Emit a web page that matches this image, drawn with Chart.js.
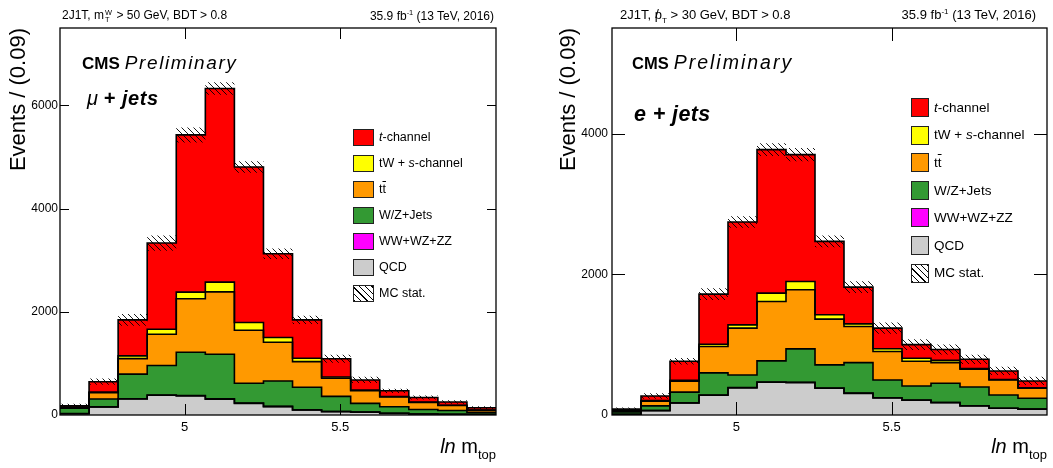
<!DOCTYPE html>
<html>
<head>
<meta charset="utf-8">
<script src="https://cdn.jsdelivr.net/npm/chart.js"></script>
<style>
  body { margin: 0; background: #fff; font-family: "Liberation Sans", Arial, Helvetica, sans-serif; }
  #page { position: relative; width: 1053px; height: 468px; overflow: hidden; }
  canvas { position: absolute; top: 0; }
  .txt { position: absolute; white-space: nowrap; color: #000; line-height: 1; }
  .ss { display: inline-block; font-size: 0.62em; line-height: 0.95; vertical-align: -0.45em; margin: 0 1px; }
  .ss span { display: block; }
  .slash { position: relative; }
  .slash::after { content: "/"; position: absolute; left: 0.05em; top: 0; }
  .ytitle { position: absolute; width: 250px; text-align: right; transform-origin: 0 0; transform: rotate(-90deg);
            white-space: nowrap; line-height: 1; }
  .leg { position: absolute; }
  .leg .row { position: absolute; left: 0; white-space: nowrap; }
  .leg .box { position: absolute; left: 0; top: 0; box-sizing: border-box; border: 1px solid #222; }
  .leg .lab { position: absolute; line-height: 1; }
  .ov { text-decoration: overline; }
</style>
</head>
<body>
<div id="page">
  <canvas id="muChart" width="527" height="468" style="left:0"></canvas>
  <canvas id="elChart" width="526" height="468" style="left:527px"></canvas>
  <div id="labels"></div>
</div>

<script>
// binning: ln(m_top) from 4.6 to 6.0 in 15 bins
const X_MIN = 4.6;
const X_MAX = 6.0;
const xLabelled = [5, 5.5];

// mu + jets, events per bin
const muQcd  = [25, 155, 310, 382, 369, 304, 226, 162, 97, 65, 55, 32, 19, 13, 12];
const muVV   = [2, 3, 5, 6, 8, 8, 6, 5, 3, 2, 2, 1, 1, 1, 0];
const muWZ   = [103, 152, 477, 570, 839, 866, 383, 493, 437, 293, 169, 127, 87, 74, 40];
const muTT   = [20, 120, 301, 608, 1036, 1209, 1028, 750, 498, 352, 244, 190, 136, 97, 40];
const muTWs  = [5, 17, 52, 97, 129, 188, 149, 91, 65, 23, 15, 8, 7, 5, 3];
const muTch  = [23, 198, 699, 1669, 3047, 3753, 3015, 1624, 744, 355, 194, 111, 90, 62, 45];
const muStat = [40, 60, 113, 149, 146, 120, 110, 104, 81, 78, 60, 42, 40, 36, 30];

// e + jets, events per bin
const elQcd  = [10, 62, 170, 280, 385, 465, 460, 380, 308, 242, 209, 176, 130, 95, 83];
const elVV   = [1, 2, 3, 4, 5, 5, 5, 4, 3, 3, 2, 2, 2, 1, 1];
const elWZ   = [34, 66, 152, 314, 179, 299, 475, 328, 434, 253, 202, 273, 266, 189, 153];
const elTT   = [15, 65, 155, 375, 665, 844, 839, 650, 512, 404, 351, 294, 252, 213, 143];
const elTWs  = [3, 10, 12, 33, 47, 119, 119, 62, 38, 40, 43, 31, 10, 7, 7];
const elTch  = [20, 65, 272, 712, 1462, 2040, 1803, 1043, 522, 292, 193, 154, 132, 121, 97];
const elStat = [25, 40, 45, 85, 83, 90, 95, 83, 83, 81, 75, 71, 66, 59, 59];

// stacking order, bottom first
const procNames  = ['QCD', 'WW+WZ+ZZ', 'W/Z+Jets', 'tt', 'tW + s-channel', 't-channel'];
const procColors = ['#cccccc', '#ff00ff', '#339933', '#ff9900', '#ffff00', '#ff0000'];

// histogram as step points on the bin edges (last edge repeats the last bin)
function steps(vals) {
  const w = (X_MAX - X_MIN) / vals.length;
  const pts = vals.map((v, i) => ({ x: X_MIN + i * w, y: v }));
  pts.push({ x: X_MAX, y: vals[vals.length - 1] });
  return pts;
}

function hatchPattern() {
  const c = document.createElement('canvas');
  c.width = 6; c.height = 6;
  const g = c.getContext('2d');
  g.strokeStyle = '#000';
  g.lineWidth = 0.9;
  g.beginPath();
  g.moveTo(-1, -1); g.lineTo(7, 7);
  g.moveTo(-4, 2); g.lineTo(2, 8);
  g.moveTo(2, -4); g.lineTo(8, 2);
  g.stroke();
  return g.createPattern(c, 'repeat');
}

// frame and ROOT style inner ticks on all four sides
const frameTicks = {
  id: 'frameTicks',
  afterDatasetsDraw(chart, args, opts) {
    const { ctx, chartArea: a, scales: { x, y } } = chart;
    ctx.save();
    ctx.strokeStyle = '#000';
    ctx.lineWidth = 1;
    ctx.beginPath();
    y.ticks.forEach(t => {
      if (t.value <= 0) return;
      const py = Math.round(y.getPixelForValue(t.value)) + 0.5;
      const len = t.value % opts.yMajor === 0 ? opts.yLong : opts.yShort;
      ctx.moveTo(a.left, py); ctx.lineTo(a.left + len, py);
      ctx.moveTo(a.right, py); ctx.lineTo(a.right - len, py);
    });
    x.ticks.forEach(t => {
      const px = Math.round(x.getPixelForValue(t.value)) + 0.5;
      const len = Math.round(t.value * 10) % 5 === 0 ? opts.xLong : opts.xShort;
      ctx.moveTo(px, a.bottom); ctx.lineTo(px, a.bottom - len);
      ctx.moveTo(px, a.top); ctx.lineTo(px, a.top + len);
    });
    ctx.stroke();
    ctx.lineWidth = 1.3;
    ctx.strokeRect(a.left, a.top, a.right - a.left, a.bottom - a.top);
    ctx.restore();
  }
};

function makeChart(id, comps, stat, cfg) {
  const total = comps[0].map((_, i) => comps.reduce((s, c) => s + c[i], 0));
  const pattern = hatchPattern();
  // stepped 'before': each bin keeps its value up to the next edge
  const datasets = [
    { label: 'MC stat. up', data: steps(total.map((v, i) => v + stat[i])), stack: 'statUp',
      borderColor: 'rgba(0,0,0,0)', borderWidth: 0, fill: false, stepped: 'before' },
    { label: 'MC stat.', data: steps(total.map((v, i) => v - stat[i])), stack: 'statDown',
      borderColor: 'rgba(0,0,0,0)', borderWidth: 0, backgroundColor: pattern, fill: '-1', stepped: 'before' }
  ];
  comps.forEach((vals, k) => {
    datasets.push({
      label: procNames[k],
      data: steps(vals),
      stepped: 'before',
      backgroundColor: procColors[k],
      borderColor: '#000',
      borderWidth: 1.6,
      fill: k === 0 ? 'origin' : '-1'
    });
  });

  return new Chart(document.getElementById(id), {
    type: 'line',
    data: { datasets },
    plugins: [frameTicks],
    options: {
      responsive: false,
      animation: false,
      events: [],
      layout: { padding: { top: 28, right: cfg.padRight, left: 0, bottom: 0 } },
      elements: { point: { radius: 0 }, line: { tension: 0, borderJoinStyle: 'miter' } },
      plugins: {
        legend: { display: false },
        tooltip: { enabled: false },
        filler: { drawTime: 'beforeDatasetsDraw' },
        frameTicks: cfg.ticks
      },
      scales: {
        x: {
          type: 'linear',
          min: X_MIN,
          max: X_MAX,
          grid: { display: false, drawTicks: false },
          border: { display: false },
          ticks: {
            stepSize: 0.1,
            autoSkip: false,
            maxRotation: 0,
            padding: 5,
            color: '#000',
            font: { family: '"Liberation Sans", Arial, sans-serif', size: 13 },
            callback: v => {
              const hit = xLabelled.find(l => Math.abs(l - v) < 1e-6);
              return hit === undefined ? null : String(hit);
            }
          },
          afterFit: s => { s.height = 53; s.paddingLeft = 0; s.paddingRight = 0; }
        },
        y: {
          stacked: true,
          min: 0,
          max: cfg.yMax,
          grid: { display: false, drawTicks: false },
          border: { display: false },
          ticks: {
            stepSize: 500,
            padding: cfg.labelPad,
            color: '#000',
            font: { family: '"Liberation Sans", Arial, sans-serif', size: 12 },
            callback: v => (v % 2000 === 0 ? String(v) : null)
          },
          afterFit: s => { s.width = cfg.yWidth; s.paddingTop = 0; s.paddingBottom = 0; }
        }
      }
    }
  });
}

makeChart('muChart', [muQcd, muVV, muWZ, muTT, muTWs, muTch], muStat, {
  yMax: 7500, yWidth: 60, padRight: 31, labelPad: 2,
  ticks: { yMajor: 2000, yLong: 9, yShort: 4.5, xLong: 11, xShort: 5.5 }
});
makeChart('elChart', [elQcd, elVV, elWZ, elTT, elTWs, elTch], elStat, {
  yMax: 5500, yWidth: 85, padRight: 6, labelPad: 4,
  ticks: { yMajor: 2000, yLong: 13, yShort: 7, xLong: 13, xShort: 7 }
});

// text, titles and legends
const legendRows = [
  '<i>t</i>-channel',
  'tW + <i>s</i>-channel',
  't<span class="ov">t</span>',
  'W/Z+Jets',
  'WW+WZ+ZZ',
  'QCD',
  'MC stat.'
];
const legendFill = [...procColors].reverse().concat(['hatch']);

function legend(x, y, boxW, boxH, gap, step, size) {
  let html = `<div class="leg" style="left:${x}px;top:${y}px">`;
  legendRows.forEach((t, i) => {
    const bg = legendFill[i] === 'hatch'
      ? 'background:repeating-linear-gradient(45deg,#000 0 1px,#fff 1px 4.5px)'
      : `background:${legendFill[i]}`;
    html += `<div class="row" style="top:${(i * step).toFixed(1)}px">` +
      `<div class="box" style="width:${boxW}px;height:${boxH}px;${bg}"></div>` +
      `<div class="lab" style="left:${boxW + gap}px;top:${(boxH / 2 - size * 0.5).toFixed(1)}px;font-size:${size}px">${t}</div></div>`;
  });
  return html + '</div>';
}

const lab = document.getElementById('labels');
lab.innerHTML = `
  <div class="txt" style="left:62px;top:9px;font-size:12px">2J1T, m<span class="ss"><span>W</span><span>T</span></span> &gt; 50 GeV, BDT &gt; 0.8</div>
  <div class="txt" style="right:559px;top:9px;font-size:12px">35.9 fb<sup style="font-size:0.62em">-1</sup> (13 TeV, 2016)</div>
  <div class="txt" style="left:82px;top:53px;font-size:18px"><b style="font-size:17px">CMS</b> <i style="letter-spacing:1.6px;font-size:19px">Preliminary</i></div>
  <div class="txt" style="left:87px;top:88px;font-size:20px"><i>&mu;</i> <b><i style="letter-spacing:0.6px">+ jets</i></b></div>
  <div class="ytitle" style="left:7px;top:278px;font-size:22px">Events / (0.09)</div>
  <div class="txt" style="right:557px;top:436px;font-size:20px"><i>ln</i> m<span style="font-size:13px;position:relative;top:6px">top</span></div>
  ${legend(353, 129, 21, 17, 5, 26, 12.5)}

  <div class="txt" style="left:620px;top:8px;font-size:13px">2J1T, <span class="slash">p</span><sub style="font-size:0.62em">T</sub> &gt; 30 GeV, BDT &gt; 0.8</div>
  <div class="txt" style="right:17px;top:8px;font-size:13px">35.9 fb<sup style="font-size:0.62em">-1</sup> (13 TeV, 2016)</div>
  <div class="txt" style="left:632px;top:53px;font-size:18px"><b style="font-size:16.5px">CMS</b> <i style="letter-spacing:2px;font-size:19.5px">Preliminary</i></div>
  <div class="txt" style="left:634px;top:104px;font-size:21.5px"><b><i style="letter-spacing:0.4px">e + jets</i></b></div>
  <div class="ytitle" style="left:557px;top:278px;font-size:22px">Events / (0.09)</div>
  <div class="txt" style="right:6px;top:436px;font-size:20px"><i>ln</i> m<span style="font-size:13px;position:relative;top:6px">top</span></div>
  ${legend(911, 98, 18, 19, 5, 27.6, 13.5)}
`;
</script>
</body>
</html>
